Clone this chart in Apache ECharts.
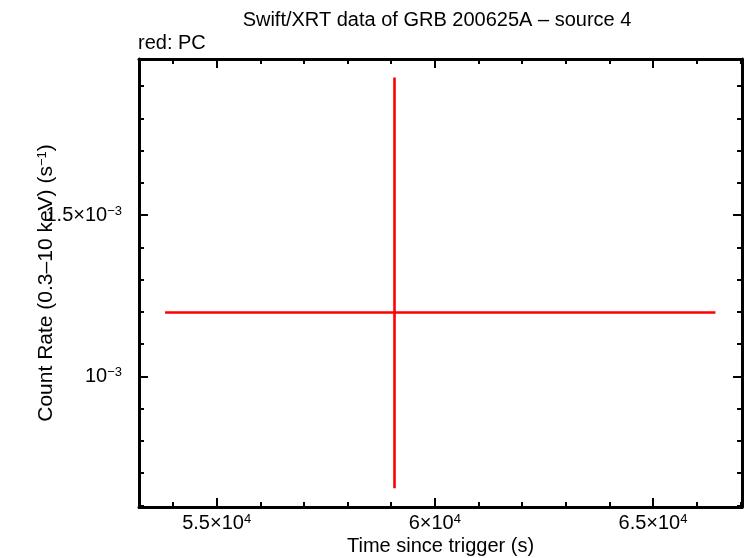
<!DOCTYPE html>
<html>
<head>
<meta charset="utf-8">
<script src="https://cdn.jsdelivr.net/npm/echarts@6/dist/echarts.min.js"></script>
<style>
html,body{margin:0;padding:0;background:#fff;}
#chart{width:746px;height:558px;}
</style>
</head>
<body>
<div id="chart"></div>
<script>
// ---- data ----
const times = [59076];          // s since trigger
const timeErrNeg = [5258];
const timeErrPos = [7355];
const rates = [1.198e-3];       // count/s
const rateErrNeg = [0.545e-3];
const rateErrPos = [0.729e-3];

// ---- axis ticks / labels ----
const xMin = 53220, xMax = 67040;
const xMajorTicks = [55000, 60000, 65000];
const xTickLabels = ['5.5×10{sup|4}', '6×10{sup|4}', '6.5×10{sup|4}'];
const xMinorTicks = [54000, 56000, 57000, 58000, 59000, 61000, 62000, 63000, 64000, 66000, 67000];
const yMin = 0.595e-3, yMax = 1.984e-3;
const yMajorTicks = [1.0e-3, 1.5e-3];
const yTickLabels = ['10{sup|−3}', '1.5×10{sup|−3}'];
const yMinorTicks = [0.6e-3, 0.7e-3, 0.8e-3, 0.9e-3, 1.1e-3, 1.2e-3, 1.3e-3, 1.4e-3, 1.6e-3, 1.7e-3, 1.8e-3, 1.9e-3];

const FONT = 'Liberation Sans, Helvetica, Arial, sans-serif';
const rich = {
  sup: { fontSize: 13, fontFamily: FONT, color: '#000', verticalAlign: 'top', lineHeight: 13, padding: [0, 0, 10, 0] }
};

const seriesData = times.map((t, i) => [t, rates[i], t - timeErrNeg[i], t + timeErrPos[i], rates[i] - rateErrNeg[i], rates[i] + rateErrPos[i]]);

function labelFor(ticks, labels) {
  return function (v) {
    for (let i = 0; i < ticks.length; i++) {
      if (Math.abs(v - ticks[i]) <= Math.abs(ticks[i]) * 1e-6) return labels[i];
    }
    return '';
  };
}

function xAxisDef(pos, ticks, len, withLabel, withLine) {
  return {
    type: 'value', position: pos, min: xMin, max: xMax,
    axisLine: { show: withLine, onZero: false, lineStyle: { color: '#000', width: 3 } },
    axisTick: { show: true, inside: true, length: len, customValues: ticks, lineStyle: { color: '#000', width: 2 } },
    axisLabel: withLabel ? {
      show: true, customValues: xMajorTicks, formatter: labelFor(xMajorTicks, xTickLabels),
      color: '#000', fontSize: 20, fontFamily: FONT, margin: 6, rich: rich
    } : { show: false },
    splitLine: { show: false }
  };
}
function yAxisDef(pos, ticks, len, withLabel, withLine) {
  return {
    type: 'value', position: pos, min: yMin, max: yMax,
    axisLine: { show: withLine, onZero: false, lineStyle: { color: '#000', width: 3 } },
    axisTick: { show: true, inside: true, length: len, customValues: ticks, lineStyle: { color: '#000', width: 2 } },
    axisLabel: withLabel ? {
      show: true, customValues: yMajorTicks, formatter: labelFor(yMajorTicks, yTickLabels),
      color: '#000', fontSize: 20, fontFamily: FONT, margin: 17, rich: rich
    } : { show: false },
    splitLine: { show: false }
  };
}

const xAxes = [
  xAxisDef('bottom', xMajorTicks, 9, true, true),
  xAxisDef('bottom', xMinorTicks, 5, false, false),
  xAxisDef('top', xMajorTicks, 9, false, true),
  xAxisDef('top', xMinorTicks, 5, false, false)
];
xAxes[0].name = 'Time since trigger (s)';
xAxes[0].nameLocation = 'middle';
xAxes[0].nameGap = 29;
xAxes[0].nameMoveOverlap = false;
xAxes[0].nameTextStyle = { color: '#000', fontSize: 20, fontFamily: FONT };

const yAxes = [
  yAxisDef('left', yMajorTicks, 9, true, true),
  yAxisDef('left', yMinorTicks, 5, false, false),
  yAxisDef('right', yMajorTicks, 9, false, true),
  yAxisDef('right', yMinorTicks, 5, false, false)
];
yAxes[0].name = 'Count Rate (0.3–10 keV) (s{sup|−1})';
yAxes[0].nameLocation = 'middle';
yAxes[0].nameGap = 82;
yAxes[0].nameMoveOverlap = false;
yAxes[0].nameTextStyle = { color: '#000', fontSize: 21, fontFamily: FONT, rich: rich };

const chart = echarts.init(document.getElementById('chart'), null, { renderer: 'canvas' });
chart.setOption({
  animation: false,
  backgroundColor: '#fff',
  title: [
    { text: 'Swift/XRT data of GRB 200625A – source 4', left: 437, top: 10, textAlign: 'center', padding: 0,
      textStyle: { color: '#000', fontSize: 20, fontWeight: 'normal', fontFamily: FONT } },
    { text: 'red: PC', left: 138, top: 33, padding: 0,
      textStyle: { color: '#000', fontSize: 20, fontWeight: 'normal', fontFamily: FONT } }
  ],
  grid: { left: 139, right: 4, top: 59, bottom: 51, containLabel: false, outerBoundsMode: 'none' },
  xAxis: xAxes,
  yAxis: yAxes,
  series: [{
    type: 'custom',
    xAxisIndex: 0, yAxisIndex: 0,
    data: seriesData,
    encode: { x: [0, 2, 3], y: [1, 4, 5] },
    renderItem: function (params, api) {
      const xl = api.coord([api.value(2), api.value(1)]);
      const xh = api.coord([api.value(3), api.value(1)]);
      const yl = api.coord([api.value(0), api.value(4)]);
      const yh = api.coord([api.value(0), api.value(5)]);
      const st = { stroke: '#ff0000', lineWidth: 2.6 };
      return {
        type: 'group',
        children: [
          { type: 'line', shape: { x1: xl[0], y1: xl[1], x2: xh[0], y2: xh[1] }, style: st },
          { type: 'line', shape: { x1: yl[0], y1: yl[1], x2: yh[0], y2: yh[1] }, style: st }
        ]
      };
    }
  }]
});
</script>
</body>
</html>
